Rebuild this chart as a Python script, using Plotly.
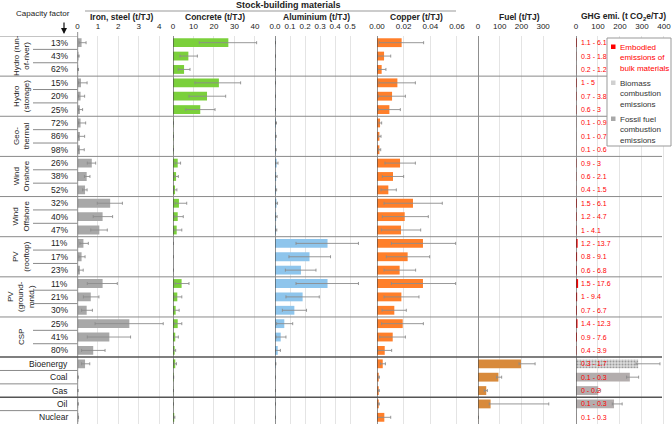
import plotly.graph_objects as go

# ---------------- data ----------------
groups = ["Hydro (run-<br>of-river)", "Hydro<br>(storage)", "Geo-<br>thermal", "Wind<br>Onshore",
          "Wind<br>Offshore", "PV<br>(rooftop)", "PV<br>(ground-<br>mntd.)", "CSP"]
capacity_factors = [["13%", "43%", "62%"], ["15%", "20%", "25%"], ["72%", "86%", "98%"],
                    ["26%", "38%", "52%"], ["32%", "40%", "47%"], ["11%", "17%", "23%"],
                    ["11%", "21%", "30%"], ["25%", "41%", "80%"]]
fuel_blocks = [["Bioenergy", "Coal", "Gas"], ["Oil", "Nuclear"]]

iron_val = [0.2, 0.05, 0.03, 0.17, 0.15, 0.12, 0.15, 0.12, 0.12, 0.7, 0.45, 0.37, 1.6, 1.23, 1.07,
            0.29, 0.2, 0.12, 1.23, 0.65, 0.45, 2.54, 1.56, 0.77, 0.37, 0.03, 0.02, 0.03, 0.05]
iron_lo = [0.08, 0.02, 0.01, 0.05, 0.05, 0.05, 0.05, 0.05, 0.05, 0.48, 0.34, 0.25, 0.97, 0.77, 0.65,
           0.12, 0.07, 0.05, 0.48, 0.29, 0.2, 0.86, 0.48, 0.2, 0.2, 0.03, 0.02, 0.03, 0.05]
iron_hi = [0.42, 0.08, 0.05, 0.47, 0.35, 0.25, 0.4, 0.35, 0.33, 0.89, 0.61, 0.47, 2.2, 1.72, 1.46,
           0.53, 0.37, 0.28, 1.95, 1.05, 0.73, 4.2, 2.6, 1.35, 0.6, 0.03, 0.02, 0.03, 0.05]

concrete_val = [27, 7.5, 5.4, 22.4, 16.6, 13.3, 0.2, 0.2, 0.2, 2.3, 1.5, 1.0, 2.9, 2.3, 1.8,
                0, 0, 0, 4.2, 2.1, 1.3, 2.3, 1.1, 0.8, 1.1, 0.3, 0.1, 0.1, 0.6]
concrete_lo = [12.8, 3.4, 2.6, 10.7, 7.8, 6.2, 0.2, 0.2, 0.2, 1.0, 0.6, 0.3, 1.0, 0.7, 0.6,
               0, 0, 0, 1.0, 0.6, 0.3, 0.7, 0.3, 0.3, 0.5, 0.3, 0.1, 0.1, 0.3]
concrete_hi = [40.8, 11.9, 8.3, 33, 25.7, 20.5, 0.2, 0.2, 0.2, 3.7, 2.6, 1.9, 6.7, 5.0, 4.3,
               0, 0, 0, 7.8, 4.3, 3.0, 4.3, 2.6, 1.3, 1.7, 0.3, 0.1, 0.1, 0.9]

alu_val = [0.002, 0.001, 0.001, 0.002, 0.002, 0.002, 0.006, 0.005, 0.005, 0.011, 0.008, 0.007,
           0.010, 0.008, 0.007, 0.35, 0.23, 0.173, 0.35, 0.184, 0.129, 0.062, 0.038, 0.018,
           0.004, 0.001, 0.001, 0.001, 0.001]
alu_lo = [0.001, 0.001, 0.001, 0.001, 0.001, 0.001, 0.003, 0.003, 0.003, 0.004, 0.003, 0.003,
          0.004, 0.003, 0.003, 0.14, 0.093, 0.069, 0.14, 0.073, 0.049, 0.011, 0.007, 0.001,
          0.002, 0.001, 0.001, 0.001, 0.001]
alu_hi = [0.003, 0.002, 0.002, 0.003, 0.003, 0.003, 0.010, 0.008, 0.008, 0.02, 0.014, 0.011,
          0.017, 0.014, 0.012, 0.556, 0.37, 0.273, 0.556, 0.295, 0.21, 0.118, 0.073, 0.036,
          0.006, 0.001, 0.001, 0.001, 0.001]

copper_val = [0.0185, 0.0053, 0.0035, 0.0153, 0.0113, 0.0093, 0.0023, 0.0018, 0.0018,
              0.0173, 0.012, 0.0085, 0.027, 0.0208, 0.018, 0.0345, 0.023, 0.017,
              0.0345, 0.0183, 0.013, 0.0193, 0.0118, 0.0058, 0.0043, 0.0013, 0.0013, 0.0013, 0.0055]
copper_lo = [0.0017, 0.0003, 0.0003, 0.0015, 0.001, 0.0008, 0.0015, 0.0012, 0.0012,
             0.006, 0.004, 0.003, 0.0053, 0.004, 0.0033, 0.0108, 0.007, 0.0053,
             0.0108, 0.0053, 0.0038, 0.0035, 0.002, 0.0005, 0.0025, 0.0008, 0.0008, 0.0008, 0.0003]
copper_hi = [0.035, 0.0103, 0.0067, 0.0288, 0.0213, 0.0175, 0.0035, 0.003, 0.0028,
             0.0288, 0.02, 0.0145, 0.049, 0.0385, 0.0328, 0.059, 0.0395, 0.029,
             0.059, 0.0315, 0.022, 0.0348, 0.0213, 0.011, 0.0063, 0.0018, 0.0017, 0.0017, 0.0103]

fuel_val = [198, 94, 38, 58, 0.5]
fuel_lo = [189, 86, 29, 52, 0.5]
fuel_hi = [263, 109, 43, 326, 0.5]

biomass_rows = ["Bioenergy"]
biomass_val = [283]
biomass_lo = [273]
biomass_hi = [382]
fossil_rows = ["Coal", "Gas", "Oil"]
fossil_val = [245, 101, 173]
fossil_lo = [230, 94, 165]
fossil_hi = [285, 112, 210]

embodied_lo = [1.1, 0.3, 0.2, 1, 0.7, 0.6, 0.1, 0.1, 0.1, 0.9, 0.6, 0.4, 1.5, 1.2, 1,
               1.2, 0.8, 0.6, 1.5, 1, 0.7, 1.4, 0.9, 0.4, 0.3, 0.1, 0, 0.1, 0.1]
embodied_hi = [6.1, 1.8, 1.2, 5, 3.8, 3, 0.9, 0.7, 0.6, 3, 2.1, 1.5, 6.1, 4.7, 4.1,
               13.7, 9.1, 6.8, 17.6, 9.4, 6.7, 12.3, 7.6, 3.9, 1.7, 0.3, 0.2, 0.3, 0.3]

# ---------------- helpers ----------------
W, H = 672, 426
MT, MB = 36, 2
PH = H - MT - MB
FONT = "Liberation Sans, Arial, sans-serif"


def px(x):
    return x / W


def py(y):
    return (H - MB - y) / PH


fuel_rows = [r for b in fuel_blocks for r in b]
row_labels = [cf for g in capacity_factors for cf in g] + fuel_rows
n = len(row_labels)
ys = list(range(n))
row_index = {r: len(row_labels) - len(fuel_rows) + i for i, r in enumerate(fuel_rows)}

panels = [
    dict(title="Iron, steel (t/TJ)", x0=77.5, x1=172, rng=[0, 4.63], tv=[0, 1, 2, 3, 4],
         tt=["0", "1", "2", "3", "4"], tx=121),
    dict(title="Concrete (t/TJ)", x0=173, x1=272, rng=[0, 48.3], tv=[0, 10, 20, 30, 40],
         tt=["0", "10", "20", "30", "40"], tx=215),
    dict(title="Aluminium (t/TJ)", x0=275, x1=373, rng=[0, 0.653], tv=[0, 0.1, 0.2, 0.3, 0.4, 0.5],
         tt=["0.0", "0.1", "0.2", "0.3", "0.4", "0.5"], tx=316),
    dict(title="Copper (t/TJ)", x0=377, x1=476, rng=[0, 0.0743], tv=[0, 0.02, 0.04, 0.06],
         tt=["0.00", "0.02", "0.04", "0.06"], tx=416),
    dict(title="Fuel (t/TJ)", x0=478, x1=572, rng=[0, 433], tv=[0, 100, 200, 300],
         tt=["0", "100", "200", "300"], tx=519),
    dict(title="GHG emi. (t CO<sub>2</sub>e/TJ)", x0=576, x1=665, rng=[0, 405],
         tv=[0, 100, 200, 300, 400], tt=["0", "100", "200", "300", "400"], tx=623),
]

fig = go.Figure()
BW = 0.66
ERR = "#8c8c8c"


def add_bars(vals, lo, hi, yy, axis, color, pattern=None):
    marker = dict(color=color, line=dict(width=0))
    if pattern:
        marker["pattern"] = pattern
    fig.add_trace(go.Bar(
        x=vals, y=yy, orientation="h", xaxis=axis, yaxis="y", width=BW, marker=marker,
        error_x=dict(type="data", symmetric=False,
                     array=[h - v for v, h in zip(vals, hi)],
                     arrayminus=[v - l for v, l in zip(vals, lo)],
                     color=ERR, thickness=0.9, width=1.5),
        hoverinfo="skip"))


add_bars(iron_val, iron_lo, iron_hi, ys, "x", "#a8a8a8")
add_bars(concrete_val, concrete_lo, concrete_hi, ys, "x2", "#7bd03b")
add_bars(alu_val, alu_lo, alu_hi, ys, "x3", "#8ec5ec")
add_bars(copper_val, copper_lo, copper_hi, ys, "x4", "#ff7f2a")
add_bars(fuel_val, fuel_lo, fuel_hi, [row_index[r] for r in fuel_rows], "x5", "#d88a3c")

# GHG panel
emb_mid = [(l + h) / 2 for l, h in zip(embodied_lo, embodied_hi)]
fig.add_trace(go.Bar(x=emb_mid, y=ys, orientation="h", xaxis="x6", yaxis="y", width=BW,
                     marker=dict(color="#ff0000", line=dict(width=0)), hoverinfo="skip"))
add_bars(biomass_val, biomass_lo, biomass_hi, [row_index[r] for r in biomass_rows], "x6", "#d6d6d6",
         pattern=dict(shape=".", size=3, solidity=0.35, fgcolor="#9a9a9a", bgcolor="#dcdcdc"))
add_bars(fossil_val, fossil_lo, fossil_hi, [row_index[r] for r in fossil_rows], "x6", "#b3adad")

layout = dict(
    template="none",
    width=W, height=H, margin=dict(l=0, r=0, t=MT, b=MB, pad=0, autoexpand=False),
    plot_bgcolor="white", paper_bgcolor="white", showlegend=False, barmode="overlay",
    font=dict(family=FONT, size=8, color="#222"),
    yaxis=dict(range=[n - 0.5, -0.5], showticklabels=False, showgrid=False, zeroline=False,
               showline=False, domain=[0, 1], automargin=False, ticks=""),
)
shapes = []
annotations = []


def note(text, x, y, size=8, color="#222", xa="center", ya="middle", yref="paper", **kw):
    d = dict(text=text, x=x, y=y, xref="paper", yref=yref, showarrow=False, xanchor=xa,
             yanchor=ya, font=dict(size=size, color=color))
    d.update(kw)
    annotations.append(d)


for i, p in enumerate(panels):
    key = "xaxis" if i == 0 else f"xaxis{i + 1}"
    ref = "x" if i == 0 else f"x{i + 1}"
    layout[key] = dict(domain=[px(p["x0"]), px(p["x1"])], anchor="y", side="top", range=p["rng"],
                       tickvals=p["tv"], ticktext=p["tt"], showgrid=True, gridcolor="#e4e4e4",
                       gridwidth=1, zeroline=False, showline=False, ticks="", automargin=False,
                       ticklabelstandoff=4,
                       tickfont=dict(size=8, color="#222"), fixedrange=True)
    shapes.append(dict(type="line", xref=ref, yref="paper", x0=0, x1=0, y0=0,
                       y1=py(32) if i == 0 else 1, line=dict(color="#444", width=1.2)))
    note(f"<b>{p['title']}</b>", px(p["tx"]), py(17), size=8.5)

# separators
SEP = "#8a8a8a"
full_x1 = px(662)
axis0 = px(77.5)
boundaries = []
pos = 0
for g in capacity_factors:
    for k in range(1, len(g)):
        shapes.append(dict(type="line", xref="paper", yref="y", x0=px(33), x1=axis0,
                           y0=pos + k - 0.5, y1=pos + k - 0.5, line=dict(color=SEP, width=1)))
    pos += len(g)
    boundaries.append(pos)
for bi, b in enumerate(fuel_blocks):
    for k in range(1, len(b)):
        shapes.append(dict(type="line", xref="paper", yref="y", x0=0, x1=axis0,
                           y0=pos + k - 0.5, y1=pos + k - 0.5, line=dict(color=SEP, width=1)))
    pos += len(b)
    boundaries.append(pos)
n_groups = len(capacity_factors)
for bi, b in enumerate(boundaries[:-1]):
    strong = bi >= n_groups - 1
    shapes.append(dict(type="line", xref="paper", yref="y", x0=0, x1=full_x1, y0=b - 0.5, y1=b - 0.5,
                       line=dict(color="#555" if strong else SEP, width=1.5 if strong else 1)))
shapes.append(dict(type="line", xref="paper", yref="y", x0=0, x1=axis0, y0=-0.5, y1=-0.5,
                   line=dict(color=SEP, width=1)))

# row labels
for i, lab in enumerate(row_labels):
    note(lab, px(70), i, size=8.5, xa="right", yref="y")
pos = 0
for g, cfs in zip(groups, capacity_factors):
    note(g, px(21), pos + (len(cfs) - 1) / 2, size=8, yref="y", textangle=-90)
    pos += len(cfs)

# embodied ranges text
for i, (l, h) in enumerate(zip(embodied_lo, embodied_hi)):
    note(f"{l:g} - {h:g}", px(579), i, size=7, color="#ff0000", xa="left", yref="y")

# headers
note("<b>Stock-building materials</b>", px(288), py(5), size=9)
shapes.append(dict(type="line", xref="paper", yref="paper", x0=px(85), x1=px(456), y0=py(11),
                   y1=py(11), line=dict(color="#999", width=1)))
note("Capacity factor", px(43), py(14), size=8)
annotations.append(dict(text="", x=px(64), y=py(34), xref="paper", yref="paper", showarrow=True,
                        ax=0, ay=-13, arrowhead=2, arrowsize=1, arrowwidth=1.2, arrowcolor="#111"))

# legend box
shapes.append(dict(type="rect", xref="paper", yref="paper", x0=px(607), x1=px(671), y0=py(146),
                   y1=py(38), fillcolor="white", line=dict(color="#999", width=1), layer="above"))
legend_items = [("Embodied<br>emissions of<br>bulk materials", "#ff0000", "#ff0000", 41),
                ("Biomass<br>combustion<br>emissions", "#d0d0d0", "#333", 77),
                ("Fossil fuel<br>combustion<br>emissions", "#a8a8a8", "#333", 113)]
for text, sq, tc, top in legend_items:
    shapes.append(dict(type="rect", xref="paper", yref="paper", x0=px(611), x1=px(615.5),
                       y0=py(top + 8), y1=py(top + 3.5), fillcolor=sq, line=dict(width=0),
                       layer="above"))
    note(text, px(617.5), py(top), size=8, color=tc, xa="left", ya="top", align="left")

layout["shapes"] = shapes
layout["annotations"] = annotations
fig.update_layout(**layout)
fig.write_html("out.html", config={"displayModeBar": False, "staticPlot": True},
               post_script="document.body.style.margin='0';document.body.style.overflow='hidden';")
